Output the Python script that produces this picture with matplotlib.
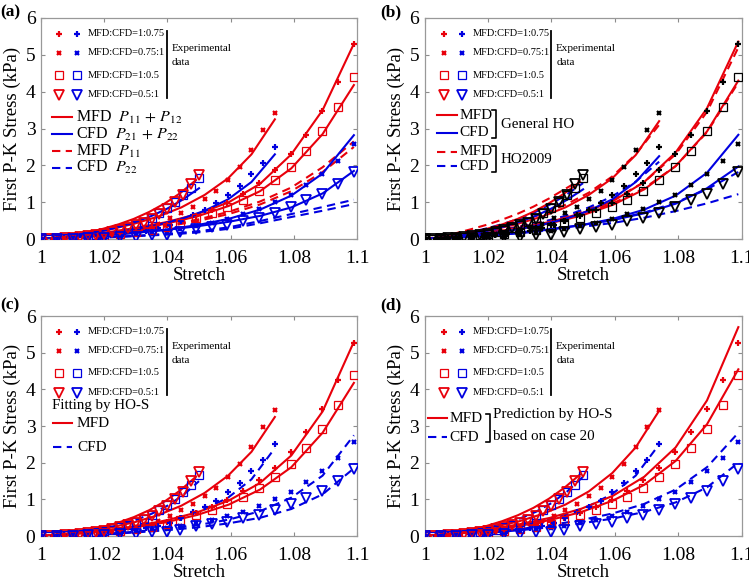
import numpy as np
import matplotlib
matplotlib.use("Agg")
import matplotlib.pyplot as plt

plt.rcParams['font.family'] = ['Liberation Serif', 'DejaVu Serif']
plt.rcParams['mathtext.fontset'] = 'stix'

RED = '#e8000b'
BLUE = '#0000e0'

# ---- experimental data (stretch, first P-K stress in kPa) ----
st_05 = [1.0, 1.005, 1.01, 1.015, 1.02, 1.025, 1.03, 1.035, 1.04, 1.044, 1.049,
         1.054, 1.059, 1.064, 1.069, 1.074, 1.079, 1.084, 1.089, 1.094, 1.099]
st_037 = [1.0, 1.0037, 1.0074, 1.0111, 1.0148, 1.0185, 1.0222, 1.0259, 1.0296, 1.0333, 1.037,
          1.0407, 1.0444, 1.0481, 1.0518, 1.0555, 1.0592, 1.0629, 1.0666, 1.0703, 1.074]
st_025 = [1.0, 1.0025, 1.005, 1.0075, 1.01, 1.0125, 1.015, 1.0175, 1.02, 1.0225, 1.025,
          1.0275, 1.03, 1.0325, 1.035, 1.0375, 1.04, 1.0425, 1.045, 1.0475, 1.05]

# MFD:CFD=1:0.75 (plus)
mfd_plus = [0, 0.02, 0.04, 0.07, 0.11, 0.16, 0.22, 0.3, 0.39, 0.5, 0.63,
            0.8, 0.98, 1.22, 1.52, 1.87, 2.3, 2.83, 3.47, 4.25, 5.28]
cfd_plus = [0, 0.01, 0.02, 0.03, 0.05, 0.07, 0.1, 0.13, 0.17, 0.22, 0.29,
            0.37, 0.5, 0.65, 0.8, 0.97, 1.2, 1.45, 1.77, 2.07, 2.5]
# MFD:CFD=0.75:1 (x)
mfd_cross = [0, 0.01, 0.03, 0.05, 0.08, 0.11, 0.15, 0.2, 0.26, 0.33, 0.42,
             0.56, 0.72, 0.88, 1.1, 1.3, 1.6, 1.96, 2.42, 2.97, 3.43]
cfd_cross = [0, 0.01, 0.02, 0.04, 0.06, 0.09, 0.12, 0.16, 0.21, 0.27, 0.36,
             0.45, 0.55, 0.67, 0.83, 1.0, 1.2, 1.48, 1.78, 2.13, 2.58]
# MFD:CFD=1:0.5 (square)
mfd_sq = [0, 0.01, 0.03, 0.06, 0.09, 0.14, 0.19, 0.26, 0.34, 0.44, 0.57,
          0.7, 0.88, 1.07, 1.3, 1.6, 1.97, 2.4, 2.93, 3.58, 4.4]
cfd_sq = [0, 0.0, 0.01, 0.02, 0.03, 0.05, 0.07, 0.1, 0.14, 0.18, 0.24,
          0.3, 0.38, 0.47, 0.57, 0.7, 0.85, 1.0, 1.2, 1.4, 1.67]
# MFD:CFD=0.5:1 (triangle)
mfd_tri = [0, 0.0, 0.01, 0.02, 0.04, 0.06, 0.08, 0.11, 0.15, 0.19, 0.24,
           0.3, 0.37, 0.45, 0.55, 0.68, 0.83, 1.0, 1.2, 1.5, 1.75]
cfd_tri = [0, 0.0, 0.0, 0.02, 0.03, 0.05, 0.07, 0.1, 0.12, 0.18, 0.27,
           0.32, 0.38, 0.5, 0.58, 0.72, 0.87, 1.05, 1.23, 1.5, 1.83]

# final stretch of each model curve (MFD / CFD) per protocol
mfd_end = {'plus': 1.099, 'cross': 1.074, 'sq': 1.099, 'tri': 1.049}
cfd_end = {'plus': 1.074, 'cross': 1.099, 'sq': 1.05, 'tri': 1.099}

# ---- model curves, 11 samples from stretch 1 to the protocol end ----
# (a) P11+P12 / P21+P22 and P11 / P22
a_mfd = {'plus': [0, 0.07, 0.17, 0.3, 0.46, 0.68, 1.0, 1.5, 2.3, 3.5, 5.3],
         'sq': [0, 0.06, 0.15, 0.27, 0.42, 0.62, 0.9, 1.3, 1.92, 2.85, 4.18],
         'cross': [0, 0.06, 0.15, 0.27, 0.42, 0.61, 0.86, 1.2, 1.65, 2.3, 3.25],
         'tri': [0, 0.04, 0.1, 0.18, 0.28, 0.4, 0.55, 0.74, 0.97, 1.25, 1.6]}
a_cfd = {'plus': [0, 0.04, 0.1, 0.17, 0.27, 0.39, 0.55, 0.77, 1.08, 1.55, 2.3],
         'cross': [0, 0.04, 0.1, 0.17, 0.26, 0.38, 0.55, 0.8, 1.18, 1.78, 2.82],
         'sq': [0, 0.03, 0.08, 0.15, 0.23, 0.34, 0.47, 0.63, 0.83, 1.08, 1.38],
         'tri': [0, 0.04, 0.1, 0.17, 0.25, 0.35, 0.47, 0.63, 0.86, 1.24, 1.85]}
a_p11 = {'plus': [0, 0.05, 0.13, 0.24, 0.37, 0.53, 0.74, 1.02, 1.4, 1.95, 2.65],
         'sq': [0, 0.04, 0.12, 0.22, 0.34, 0.49, 0.68, 0.94, 1.3, 1.82, 2.5]}
a_p22 = {'cross': [0, 0.02, 0.05, 0.09, 0.14, 0.21, 0.32, 0.49, 0.68, 0.87, 1.07],
         'tri': [0, 0.02, 0.04, 0.08, 0.12, 0.18, 0.28, 0.43, 0.6, 0.77, 0.95]}

# (b) General HO (solid) and HO2009 (dashed)
b_mfd = {'plus': [0, 0.07, 0.17, 0.3, 0.47, 0.7, 1.03, 1.55, 2.35, 3.55, 5.36],
         'sq': [0, 0.06, 0.15, 0.27, 0.43, 0.64, 0.93, 1.35, 1.98, 2.92, 4.3],
         'cross': [0, 0.06, 0.15, 0.27, 0.42, 0.61, 0.86, 1.2, 1.65, 2.28, 3.2],
         'tri': [0, 0.04, 0.1, 0.18, 0.28, 0.4, 0.55, 0.74, 0.97, 1.24, 1.55]}
b_cfd = {'plus': [0, 0.04, 0.1, 0.17, 0.27, 0.39, 0.55, 0.77, 1.08, 1.55, 2.25],
         'cross': [0, 0.04, 0.1, 0.17, 0.26, 0.38, 0.55, 0.8, 1.18, 1.8, 2.83],
         'sq': [0, 0.03, 0.08, 0.15, 0.23, 0.34, 0.47, 0.63, 0.83, 1.07, 1.35],
         'tri': [0, 0.04, 0.1, 0.18, 0.27, 0.38, 0.52, 0.7, 0.96, 1.38, 1.97]}
b_mfd09 = {'plus': [0, 0.09, 0.2, 0.34, 0.51, 0.74, 1.06, 1.55, 2.3, 3.45, 5.2],
           'sq': [0, 0.08, 0.18, 0.31, 0.47, 0.68, 0.97, 1.38, 1.98, 2.9, 4.25],
           'cross': [0, 0.08, 0.19, 0.32, 0.48, 0.68, 0.93, 1.26, 1.7, 2.3, 3.1],
           'tri': [0, 0.07, 0.16, 0.27, 0.39, 0.53, 0.69, 0.88, 1.1, 1.35, 1.6]}
b_cfd09 = {'plus': [0, 0.05, 0.12, 0.21, 0.32, 0.46, 0.63, 0.86, 1.16, 1.56, 2.1],
           'cross': [0, 0.04, 0.1, 0.17, 0.26, 0.37, 0.52, 0.72, 0.99, 1.35, 1.82],
           'sq': [0, 0.05, 0.12, 0.2, 0.3, 0.42, 0.56, 0.74, 0.96, 1.22, 1.52],
           'tri': [0, 0.04, 0.09, 0.16, 0.24, 0.33, 0.44, 0.58, 0.76, 0.97, 1.22]}

# (c) fitting by HO-S
c_mfd = {'plus': [0, 0.06, 0.15, 0.27, 0.43, 0.65, 0.97, 1.45, 2.2, 3.4, 5.3],
         'sq': [0, 0.05, 0.13, 0.24, 0.38, 0.58, 0.86, 1.27, 1.88, 2.82, 4.18],
         'cross': [0, 0.05, 0.13, 0.24, 0.38, 0.57, 0.83, 1.18, 1.65, 2.3, 3.25],
         'tri': [0, 0.04, 0.09, 0.16, 0.25, 0.37, 0.52, 0.71, 0.95, 1.25, 1.62]}
c_cfd = {'plus': [0, 0.03, 0.08, 0.15, 0.24, 0.36, 0.52, 0.74, 1.05, 1.55, 2.4],
         'cross': [0, 0.02, 0.06, 0.12, 0.2, 0.3, 0.45, 0.68, 1.05, 1.65, 2.75],
         'sq': [0, 0.03, 0.07, 0.13, 0.21, 0.31, 0.44, 0.61, 0.83, 1.12, 1.5],
         'tri': [0, 0.02, 0.05, 0.1, 0.16, 0.24, 0.35, 0.5, 0.74, 1.14, 1.85]}

# (d) prediction by HO-S based on case 20
d_mfd = {'plus': [0, 0.07, 0.18, 0.32, 0.5, 0.75, 1.1, 1.62, 2.42, 3.7, 5.7],
         'sq': [0, 0.06, 0.15, 0.28, 0.44, 0.66, 0.97, 1.4, 2.05, 3.05, 4.55],
         'cross': [0, 0.05, 0.14, 0.26, 0.4, 0.6, 0.86, 1.22, 1.72, 2.42, 3.42],
         'tri': [0, 0.04, 0.1, 0.18, 0.28, 0.41, 0.57, 0.77, 1.02, 1.32, 1.68]}
d_cfd = {'plus': [0, 0.04, 0.1, 0.18, 0.28, 0.41, 0.58, 0.82, 1.15, 1.65, 2.5],
         'cross': [0, 0.04, 0.1, 0.19, 0.3, 0.44, 0.62, 0.88, 1.27, 1.88, 2.82],
         'sq': [0, 0.03, 0.08, 0.14, 0.23, 0.34, 0.48, 0.66, 0.9, 1.22, 1.62],
         'tri': [0, 0.04, 0.09, 0.16, 0.24, 0.35, 0.48, 0.66, 0.92, 1.33, 2.0]}

ratio_labels = ['MFD:CFD=1:0.75', 'MFD:CFD=0.75:1', 'MFD:CFD=1:0.5', 'MFD:CFD=0.5:1']

MARK = {
    'plus': dict(marker='+', ms=4.5, mew=1.6),
    'cross': dict(marker='x', ms=3.0, mew=1.6),
    'sq': dict(marker='s', ms=5.5, mfc='none', mew=0.9),
    'tri': dict(marker='v', ms=7.5, mfc='none', mew=1.3),
}
DASH = (0, (4, 2.6))


def style_marker(kind, color):
    kw = dict(MARK[kind])
    kw['color'] = color
    return kw


def draw_data(ax, black=False):
    sets = [('plus', st_05, mfd_plus, st_037, cfd_plus),
            ('cross', st_037, mfd_cross, st_05, cfd_cross),
            ('sq', st_05, mfd_sq, st_025, cfd_sq),
            ('tri', st_025, mfd_tri, st_05, cfd_tri)]
    for kind, xm, ym, xc, yc in sets:
        ax.plot(xm, ym, ls='none', zorder=3, **style_marker(kind, 'k' if black else RED))
        ax.plot(xc, yc, ls='none', zorder=3, **style_marker(kind, 'k' if black else BLUE))


def draw_curves(ax, curves, ends, color, ls='-'):
    for kind, vals in curves.items():
        x = np.linspace(1.0, ends[kind], len(vals))
        if ls == '-':
            ax.plot(x, vals, color=color, lw=1.5, zorder=2)
        else:
            ax.plot(x, vals, color=color, lw=1.5, ls=DASH, zorder=2)


def setup_axes(ax):
    ax.set_xlim(1.0, 1.1)
    ax.set_ylim(0, 6)
    ax.set_xticks([1.0, 1.02, 1.04, 1.06, 1.08, 1.1])
    ax.set_xticklabels(['1', '1.02', '1.04', '1.06', '1.08', '1.1'])
    ax.set_yticks(range(7))
    ax.tick_params(direction='in', top=True, right=True, length=3,
                   color='0.55', labelsize=14)
    ax.tick_params(axis='x', pad=8)
    ax.tick_params(axis='y', pad=4)
    for s in ax.spines.values():
        s.set_color('0.6')
        s.set_linewidth(0.9)
    ax.set_xlabel('Stretch', fontsize=13.5, labelpad=0)
    ax.set_ylabel('First P-K Stress (kPa)', fontsize=13.5, labelpad=3)


def marker_key(ax, xr, xb, xt, xv):
    T = ax.transAxes
    rows = [0.928, 0.842, 0.742, 0.652]
    for kind, y, lab in zip(['plus', 'cross', 'sq', 'tri'], rows, ratio_labels):
        ax.plot([xr], [y], transform=T, clip_on=False, **style_marker(kind, RED))
        ax.plot([xb], [y], transform=T, clip_on=False, **style_marker(kind, BLUE))
        ax.text(xt, y, lab, transform=T, fontsize=7.5, va='center', ha='left')
    ax.plot([xv, xv], [0.64, 0.94], transform=T, color='k', lw=1.3)
    ax.text(xv + 0.015, 0.86, 'Experimental', transform=T, fontsize=8, va='center')
    ax.text(xv + 0.015, 0.80, 'data', transform=T, fontsize=8, va='center')


def line_key(ax, x0, x1, xt, y, color, ls, label, fs=11):
    T = ax.transAxes
    ax.plot([x0, x1], [y, y], transform=T, color=color, lw=1.5,
            ls=ls if ls == '-' else DASH, clip_on=False)
    ax.text(xt, y, label, transform=T, fontsize=fs, va='center', ha='left')


def bracket(ax, x, y0, y1):
    T = ax.transAxes
    ax.plot([x - 0.012, x, x, x - 0.012], [y1, y1, y0, y0], transform=T,
            color='k', lw=1.2, clip_on=False)


fig = plt.figure(figsize=(7.49, 5.79), dpi=100)
axa = fig.add_axes([0.0547, 0.587, 0.422, 0.382])
axb = fig.add_axes([0.567, 0.587, 0.423, 0.382])
axc = fig.add_axes([0.0547, 0.074, 0.422, 0.380])
axd = fig.add_axes([0.567, 0.074, 0.423, 0.380])

# (a)
setup_axes(axa)
draw_data(axa)
draw_curves(axa, a_p11, mfd_end, RED, '--')
draw_curves(axa, a_p22, cfd_end, BLUE, '--')
draw_curves(axa, a_mfd, mfd_end, RED)
draw_curves(axa, a_cfd, cfd_end, BLUE)
marker_key(axa, 0.057, 0.114, 0.149, 0.399)
line_key(axa, 0.035, 0.098, 0.111, 0.552, RED, '-', r'MFD  $P_{11}\,+\,P_{12}$', 11.5)
line_key(axa, 0.035, 0.098, 0.111, 0.475, BLUE, '-', r'CFD  $P_{21}\,+\,P_{22}$', 11.5)
line_key(axa, 0.035, 0.098, 0.111, 0.398, RED, '--', r'MFD  $P_{11}$', 11.5)
line_key(axa, 0.035, 0.098, 0.111, 0.322, BLUE, '--', r'CFD  $P_{22}$', 11.5)

# (b)
setup_axes(axb)
draw_data(axb, black=True)
draw_curves(axb, b_mfd09, mfd_end, RED, '--')
draw_curves(axb, b_cfd09, cfd_end, BLUE, '--')
draw_curves(axb, b_mfd, mfd_end, RED)
draw_curves(axb, b_cfd, cfd_end, BLUE)
marker_key(axb, 0.06, 0.117, 0.151, 0.40)
line_key(axb, 0.038, 0.101, 0.110, 0.561, RED, '-', 'MFD')
line_key(axb, 0.038, 0.101, 0.110, 0.48, BLUE, '-', 'CFD')
line_key(axb, 0.038, 0.101, 0.110, 0.394, RED, '--', 'MFD')
line_key(axb, 0.038, 0.101, 0.110, 0.33, BLUE, '--', 'CFD')
bracket(axb, 0.226, 0.455, 0.585)
bracket(axb, 0.226, 0.305, 0.42)
axb.text(0.24, 0.517, 'General HO', transform=axb.transAxes, fontsize=10.8, va='center')
axb.text(0.24, 0.36, 'HO2009', transform=axb.transAxes, fontsize=10.8, va='center')

# (c)
setup_axes(axc)
draw_data(axc)
draw_curves(axc, c_cfd, cfd_end, BLUE, '--')
draw_curves(axc, c_mfd, mfd_end, RED)
marker_key(axc, 0.057, 0.114, 0.149, 0.399)
axc.text(0.035, 0.595, 'Fitting by HO-S', transform=axc.transAxes, fontsize=10.8, va='center')
line_key(axc, 0.038, 0.098, 0.114, 0.514, RED, '-', 'MFD')
line_key(axc, 0.038, 0.098, 0.114, 0.405, BLUE, '--', 'CFD')

# (d)
setup_axes(axd)
draw_data(axd)
draw_curves(axd, d_cfd, cfd_end, BLUE, '--')
draw_curves(axd, d_mfd, mfd_end, RED)
marker_key(axd, 0.06, 0.117, 0.151, 0.40)
line_key(axd, 0.012, 0.07, 0.078, 0.536, RED, '-', 'MFD')
line_key(axd, 0.012, 0.07, 0.078, 0.45, BLUE, '--', 'CFD')
bracket(axd, 0.207, 0.43, 0.555)
axd.text(0.215, 0.553, 'Prediction by HO-S', transform=axd.transAxes, fontsize=10.8, va='center')
axd.text(0.215, 0.455, 'based on case 20', transform=axd.transAxes, fontsize=10.8, va='center')

for lab, (fx, fy) in zip(['(a)', '(b)', '(c)', '(d)'],
                         [(0.0, 0.978), (0.508, 0.978), (0.0, 0.472), (0.508, 0.472)]):
    fig.text(fx, fy, lab, fontsize=12.5, fontweight='bold', va='center', ha='left')

fig.savefig('out.png', dpi=100)
